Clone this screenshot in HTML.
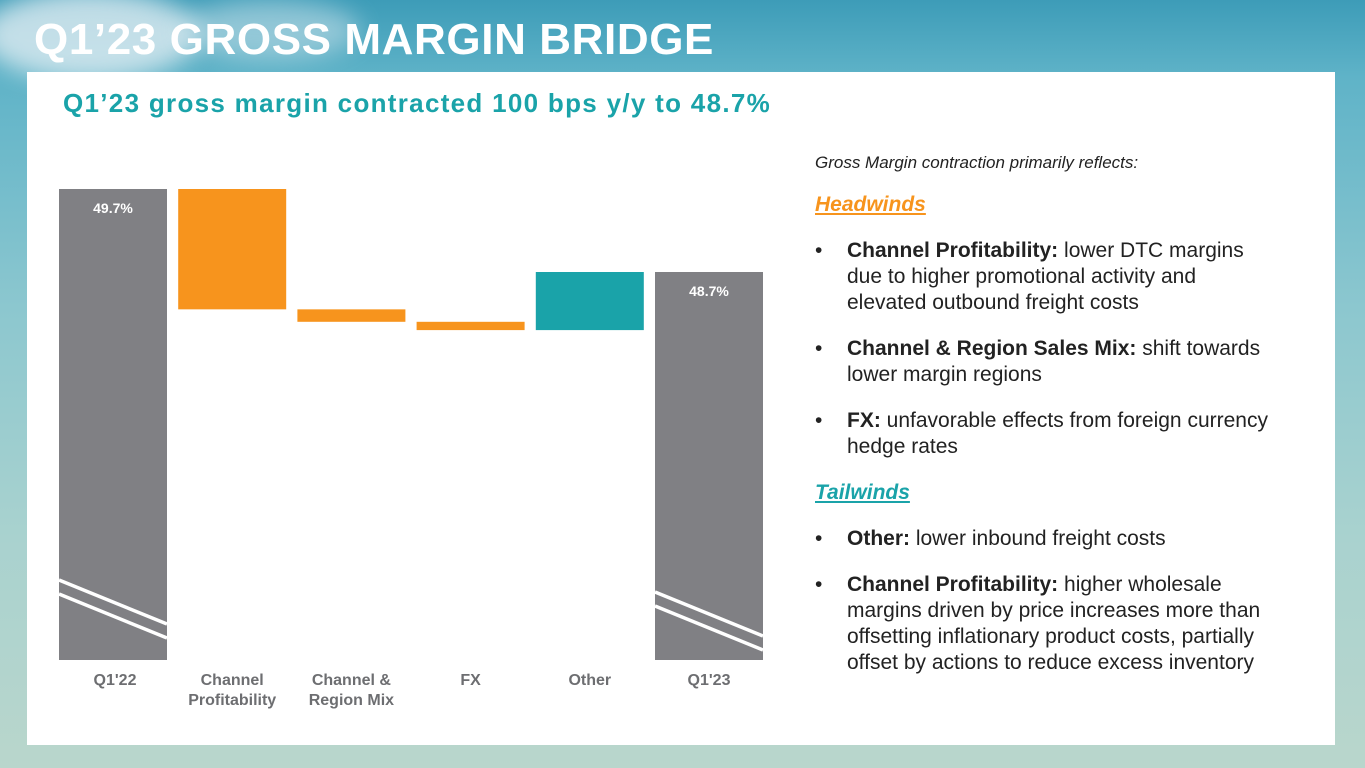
<!DOCTYPE html>
<html><head><meta charset="utf-8"><style>
body{margin:0;width:1365px;height:768px;overflow:hidden;position:relative;font-family:"Liberation Sans",sans-serif;
background:linear-gradient(180deg,#3d9cb8 0%,#5fb3c8 10%,#8cc7cf 40%,#a9d2cf 70%,#b9d6cc 100%);}
.cloud{position:absolute;border-radius:50%;background:rgba(235,242,245,0.75);filter:blur(12px);}
#title{position:absolute;left:34px;top:15px;color:#fff;font-size:44px;font-weight:bold;letter-spacing:0.6px;}
#panel{position:absolute;left:27px;top:72px;width:1308px;height:673px;background:#fff;}
#sub{position:absolute;left:63px;top:88px;color:#1aa3a9;font-size:26px;font-weight:bold;letter-spacing:1.3px;}
#notes{position:absolute;left:815px;top:150px;width:466px;font-family:"Liberation Sans",sans-serif;color:#222;font-size:21px;line-height:26px;}
#notes p{margin:0 0 20px 0;}
.b{display:flex;}.b span.d{width:32px;flex:none;}
</style></head><body>
<div class="cloud" style="left:-20px;top:-10px;width:220px;height:90px"></div>
<div class="cloud" style="left:180px;top:0px;width:180px;height:60px;opacity:.6"></div>
<div id="title">Q1’23 GROSS MARGIN BRIDGE</div>
<div id="panel"></div>
<div id="sub">Q1’23 gross margin contracted 100 bps y/y to 48.7%</div>
<svg id="chart" width="800" height="768" style="position:absolute;left:0;top:0"></svg>
<div id="notes">
<p style="font-style:italic;font-size:17px;margin-bottom:16px">Gross Margin contraction primarily reflects:</p>
<p style="color:#f7941d;font-weight:bold;font-style:italic;text-decoration:underline;margin-bottom:20px">Headwinds</p>
<p class="b"><span class="d">•</span><span><b>Channel Profitability:</b> lower DTC margins due to higher promotional activity and elevated outbound freight costs</span></p>
<p class="b"><span class="d">•</span><span><b>Channel &amp; Region Sales Mix:</b> shift towards lower margin regions</span></p>
<p class="b"><span class="d">•</span><span><b>FX:</b> unfavorable effects from foreign currency hedge rates</span></p>
<p style="color:#1aa3a9;font-weight:bold;font-style:italic;text-decoration:underline">Tailwinds</p>
<p class="b"><span class="d">•</span><span><b>Other:</b> lower inbound freight costs</span></p>
<p class="b"><span class="d">•</span><span><b>Channel Profitability:</b> higher wholesale margins driven by price increases more than offsetting inflationary product costs, partially offset by actions to reduce excess inventory</span></p>
</div>
<script>
const categories=["Q1'22","Channel|Profitability","Channel &|Region Mix","FX","Other","Q1'23"];
const deltas=[49.7,-1.45,-0.15,-0.1,0.7,48.7];
const kinds=["total","delta","delta","delta","delta","total"];
const valueLabels=["49.7%","","","","","48.7%"];
const svg=document.getElementById('chart');
const NS='http://www.w3.org/2000/svg';
const yTop=189,pxPerPt=83,baseY=660,x0=59,step=119.2,bw=108;
function y(v){return yTop+(49.7-v)*pxPerPt;}
function xs(i){return x0+i*step;}
function mk(t,a){const e=document.createElementNS(NS,t);for(const k in a)e.setAttribute(k,a[k]);svg.appendChild(e);return e;}
let run=0;
categories.forEach((c,i)=>{
  let top,bot,fill;
  if(kinds[i]==="total"){run=deltas[i];top=y(run);bot=baseY;fill="#808084";}
  else{const prev=run;run+=deltas[i];top=y(Math.max(prev,run));bot=y(Math.min(prev,run));fill=deltas[i]<0?"#f7941d":"#1aa3a9";}
  const r=mk('rect',{x:xs(i),y:top,width:bw,height:bot-top,fill:fill});
  
  
  if(kinds[i]==="total"){
    const off=i===0?0:12;
    [0,14].forEach(d=>{const l=mk('line',{x1:xs(i),y1:580+off+d,x2:xs(i)+bw,y2:624+off+d,stroke:"#fff","stroke-width":3.5});
      
      });
    const t=mk('text',{x:xs(i)+bw/2,y:top+24,fill:"#fff","font-size":14,"font-weight":"bold","text-anchor":"middle","font-family":"Liberation Sans"});
    t.textContent=valueLabels[i];
    
    
  }
  c.split('|').forEach((ln,j)=>{const t=mk('text',{x:xs(i)+bw/2+(i==0?2:0),y:685+j*20,fill:"#6d6e71","font-size":16,"font-weight":"bold","text-anchor":"middle","font-family":"Liberation Sans"});
    t.textContent=ln;
    
    });
});
</script>
</body></html>
